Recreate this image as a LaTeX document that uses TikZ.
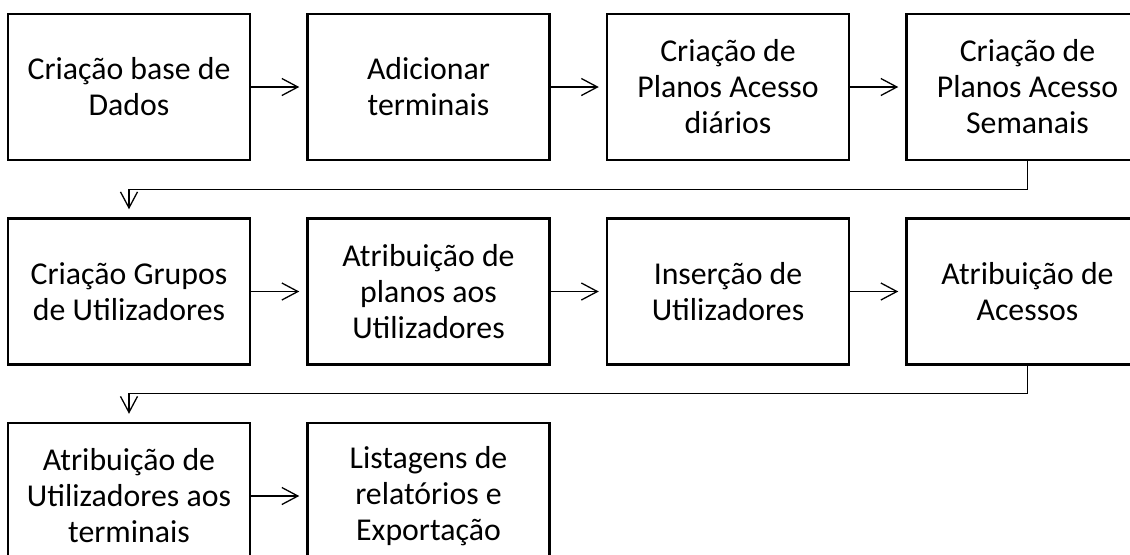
\documentclass[tikz,border=0pt]{standalone}
\usepackage{fontspec}
\setmainfont{Carlito}
\usepackage{tikz}
\usetikzlibrary{arrows.meta,positioning,calc}
\tikzset{
  stepbox/.style={draw=black, line width=1.25pt, fill=white,
    minimum width=121pt, minimum height=73pt, align=center,
    inner sep=2pt, font=\fontsize{15.9pt}{18pt}\selectfont},
  flow/.style={-{Straight Barb[length=8pt, width=8.5pt]}, line width=0.65pt,
    shorten >=3.5pt},
  turnflow/.style={-{Straight Barb[length=8pt, width=8.5pt]}, line width=0.65pt,
    shorten >=4pt, rounded corners=0pt}
}

\begin{document}
\begin{tikzpicture}[node distance=28pt and 27.5pt]
\useasboundingbox (-64.5pt,-233.5pt) rectangle (500.5pt,43.5pt);
% first row
\node[stepbox] (db) at (0,0) {Criação base de\\Dados};
\node[stepbox, right=of db] (term) {Adicionar\\terminais};
\node[stepbox, right=of term] (pdia) {Criação de\\Planos Acesso\\diários};
\node[stepbox, right=of pdia] (psem) {Criação de\\Planos Acesso\\Semanais};
% second row
\node[stepbox, below=of db] (grp) {Criação Grupos\\de Utilizadores};
\node[stepbox, right=of grp] (atrib) {Atribuição de\\planos aos\\Utilizadores};
\node[stepbox, right=of atrib] (ins) {Inserção de\\Utilizadores};
\node[stepbox, right=of ins] (aces) {Atribuição de\\Acessos};
% third row
\node[stepbox, below=of grp] (uterm) {Atribuição de\\Utilizadores aos\\terminais};
\node[stepbox, right=of uterm] (list) {Listagens de\\relatórios e\\Exportação};

\draw[flow] (db)--(term);
\draw[flow] (term)--(pdia);
\draw[flow] (pdia)--(psem);
\draw[turnflow] (psem.south) -- ++(0,-14pt) -| (grp.north);
\draw[flow] (grp)--(atrib);
\draw[flow] (atrib)--(ins);
\draw[flow] (ins)--(aces);
\draw[turnflow] (aces.south) -- ++(0,-14pt) -| (uterm.north);
\draw[flow] (uterm)--(list);
\end{tikzpicture}
\end{document}
